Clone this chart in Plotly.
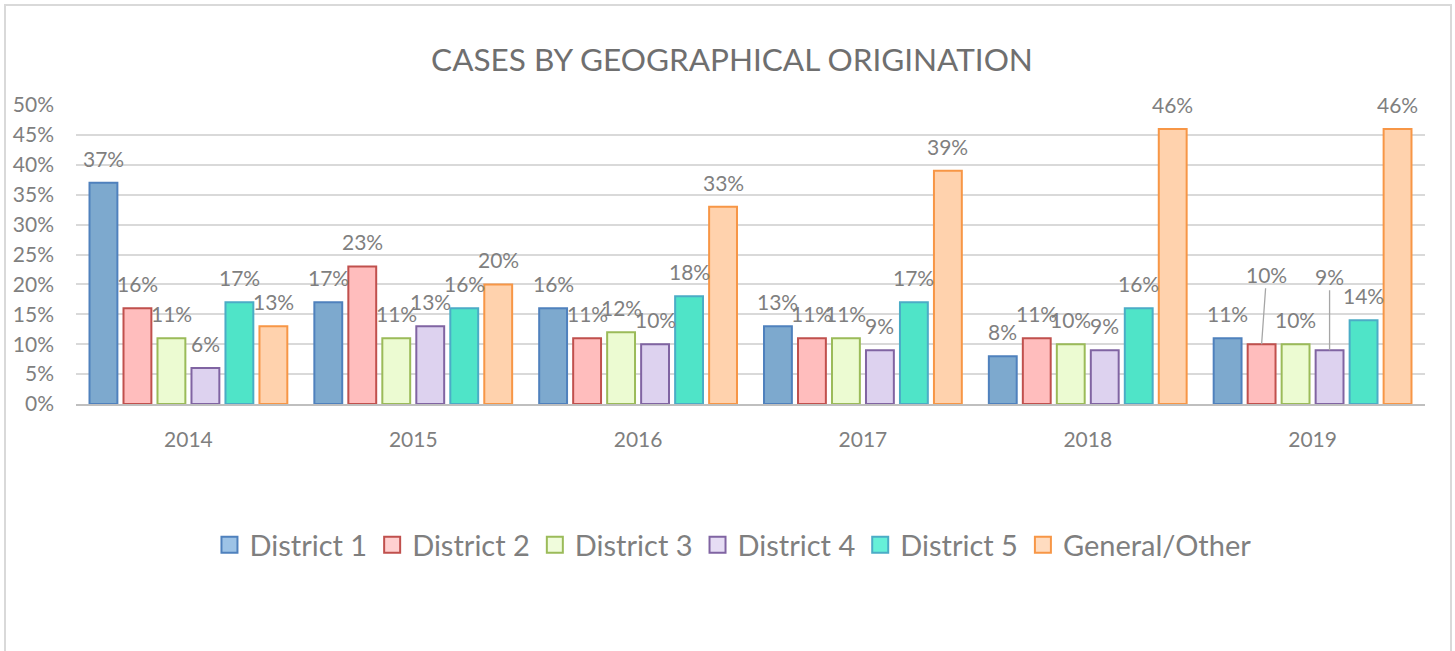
import plotly.graph_objects as go

years = ["2014", "2015", "2016", "2017", "2018", "2019"]
series_names = ["District 1", "District 2", "District 3", "District 4", "District 5", "General/Other"]
district1 = [37, 17, 16, 13, 8, 11]
district2 = [16, 23, 11, 11, 11, 10]
district3 = [11, 11, 12, 11, 10, 10]
district4 = [6, 13, 10, 9, 9, 9]
district5 = [17, 16, 18, 17, 16, 14]
general = [13, 20, 33, 39, 46, 46]
all_series = [district1, district2, district3, district4, district5, general]

fills = ["#7DA9CE", "#FFBDBD", "#ECFBD2", "#DDD2EF", "#4FE4C8", "#FFD2AD"]
legend_fills = ["#9DC3E6", "#FFD0D0", "#F0FCDC", "#E6DDF4", "#66F0D8", "#FFDCC0"]
borders = ["#4F81BD", "#C0504D", "#9BBB59", "#8064A2", "#4BACC6", "#F79646"]

FONT = "Lato"
GRAY = "#7F7F7F"
TITLE_GRAY = "#6F6F6F"
LABEL_GRAY = "#7F7F7F"

fig = go.Figure()
for name, vals, fc, bc in zip(series_names, all_series, fills, borders):
    fig.add_trace(go.Bar(
        name=name, x=years, y=vals, showlegend=False,
        marker=dict(color=fc, line=dict(color=bc, width=2)),
        hoverinfo="skip",
    ))
# legend entries with larger square symbols
for name, lf, bc in zip(series_names, legend_fills, borders):
    fig.add_trace(go.Scatter(
        name=name, x=[None], y=[None], mode="markers", showlegend=True,
        marker=dict(symbol="square", size=16, color=lf, line=dict(color=bc, width=2)),
        hoverinfo="skip",
    ))

# geometry for label placement
L, R, T, B = 76, 30, 105, 247
W = 1455 - L - R
H = 651 - T - B
cat_w = W / len(years)
bargap = 0.093
slot = cat_w * (1 - bargap) / len(series_names)

annotations = []
# leader-line labels (2019 District 2 and District 4)
leaders = {(5, 1): (5, -70), (5, 3): (0, -74)}
for si, vals in enumerate(all_series):
    xs = (si - (len(series_names) - 1) / 2) * slot
    for yi, v in enumerate(vals):
        if (yi, si) in leaders:
            ax, ay = leaders[(yi, si)]
            annotations.append(dict(
                x=yi, y=v, xref="x", yref="y", xshift=xs,
                text=f"{v}%", showarrow=True, arrowhead=0, arrowwidth=1.3,
                arrowcolor="#A6A6A6", ax=ax, ay=ay, standoff=0,
                font=dict(family=FONT, size=21, color=LABEL_GRAY),
            ))
        else:
            annotations.append(dict(
                x=yi, y=v, xref="x", yref="y", xshift=xs,
                yanchor="bottom", yshift=10, text=f"{v}%", showarrow=False,
                font=dict(family=FONT, size=21, color=LABEL_GRAY),
            ))

fig.update_layout(
    width=1455, height=651,
    margin=dict(l=L, r=R, t=T, b=B, autoexpand=False),
    paper_bgcolor="white", plot_bgcolor="white",
    barmode="group", bargap=bargap, bargroupgap=0.18,
    title=dict(text="CASES BY GEOGRAPHICAL ORIGINATION", x=732 / 1455, xanchor="center",
               y=1 - 60 / 651, yanchor="middle",
               font=dict(family=FONT, size=31.5, color=TITLE_GRAY)),
    font=dict(family=FONT, color=GRAY),
    showlegend=True,
    legend=dict(orientation="h", x=0.487, xanchor="center", y=(404 - 545) / H, yanchor="middle",
                font=dict(family=FONT, size=29, color=GRAY), traceorder="normal",
                itemwidth=30),
    annotations=annotations,
    shapes=[dict(type="rect", xref="paper", yref="paper",
                 x0=(5 - L) / W, x1=(1451 - L) / W,
                 y0=-0.9, y1=(404 - 5) / H,
                 line=dict(color="#D9D9D9", width=2), fillcolor="rgba(0,0,0,0)", layer="below")],
)
fig.update_yaxes(range=[0, 50], dtick=5, ticksuffix="%", showgrid=True,
                 gridcolor="#D9D9D9", gridwidth=1.5, zeroline=False, showline=False,
                 tickfont=dict(family=FONT, size=21, color=GRAY), ticklabelstandoff=21,
                 fixedrange=True, automargin=False)
fig.update_xaxes(type="category", range=[-0.5, len(years) - 0.5], showline=True,
                 linecolor="#BFBFBF", linewidth=1.5,
                 tickfont=dict(family=FONT, size=21, color=GRAY), ticklabelstandoff=16,
                 fixedrange=True, automargin=False, showgrid=False)

fig.write_html("out.html", post_script="document.body.style.margin='0';",
               config={"displayModeBar": False})
